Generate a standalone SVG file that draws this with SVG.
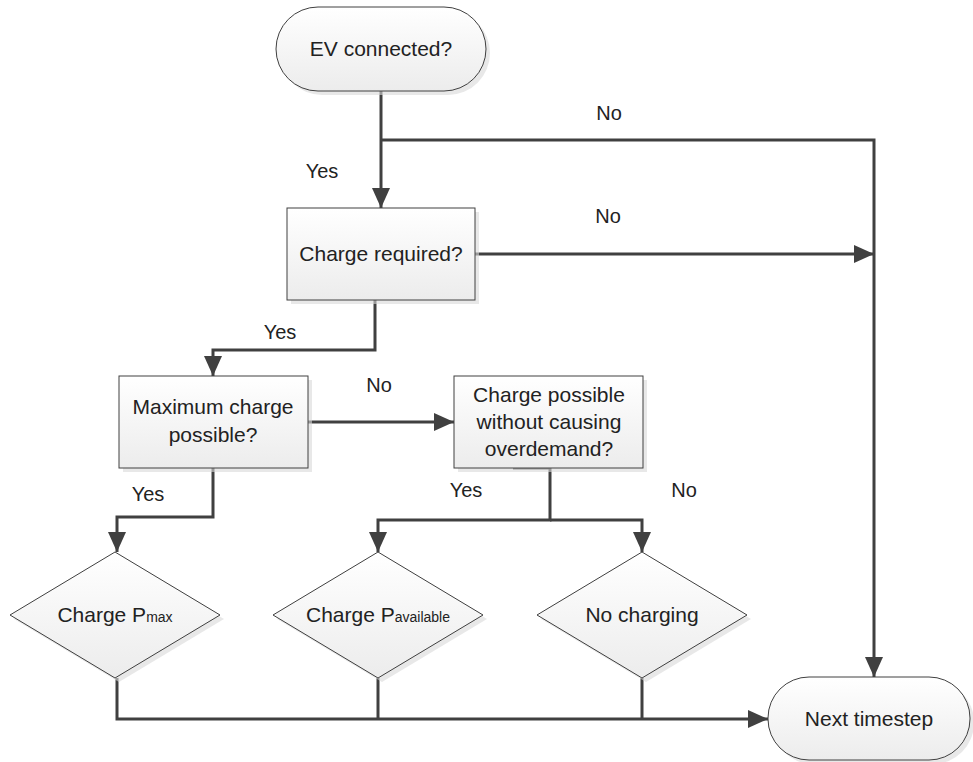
<svg xmlns="http://www.w3.org/2000/svg" width="973" height="762" viewBox="0 0 973 762">
<defs>
<linearGradient id="g" x1="0" y1="0" x2="0" y2="1">
<stop offset="0" stop-color="#ffffff"/>
<stop offset="1" stop-color="#ececec"/>
</linearGradient>
<marker id="arr" viewBox="0 0 20 20" refX="20" refY="10" markerWidth="20" markerHeight="20" markerUnits="userSpaceOnUse" orient="auto">
<path d="M0,1 L20,10 L0,19 Z" fill="#404040"/>
</marker>
</defs>
<style>
.sh{fill:#d9d9d9;opacity:0.6}
.nd{fill:url(#g);stroke:#404040;stroke-width:1}
.t{font-family:"Liberation Sans",Arial,sans-serif;font-size:21px;fill:#222222;text-anchor:middle}
.sub{font-size:14px}
.lb{font-family:"Liberation Sans",Arial,sans-serif;font-size:20px;fill:#222222;text-anchor:middle}
.c{fill:none;stroke:#404040;stroke-width:3}
.ca{fill:none;stroke:#404040;stroke-width:3;marker-end:url(#arr)}
</style>
<g id="connectors">
<path class="ca" d="M381,91 V208"/>
<path class="ca" d="M381,140 H874 V677"/>
<path class="ca" d="M475,254 H874"/>
<path class="ca" d="M375,300 V350 H213 V376"/>
<path class="ca" d="M308,422 H454"/>
<path class="ca" d="M213,468 V517 H117 V552"/>
<path class="ca" d="M513,468 H550 V520 H378 V552"/>
<path class="ca" d="M550,520 H642 V552"/>
<path class="ca" d="M117,678 V719 H768"/>
<path class="c" d="M378,678 V719"/>
<path class="c" d="M642,678 V719"/>
</g>
<g id="labels">
<text class="lb" x="609" y="120">No</text>
<text class="lb" x="322" y="178">Yes</text>
<text class="lb" x="608" y="223">No</text>
<text class="lb" x="280" y="339">Yes</text>
<text class="lb" x="379" y="392">No</text>
<text class="lb" x="148" y="501">Yes</text>
<text class="lb" x="466" y="497">Yes</text>
<text class="lb" x="684" y="497">No</text>
</g>
<g id="ev-connected">
<rect class="sh" x="280" y="11" width="210" height="84" rx="42"/>
<rect class="nd" x="276" y="7" width="210" height="84" rx="42"/>
<text class="t" x="381" y="56">EV connected?</text>
</g>
<g id="charge-required">
<rect class="sh" x="291" y="212" width="188" height="92"/>
<rect class="nd" x="287" y="208" width="188" height="92"/>
<text class="t" x="381" y="261">Charge required?</text>
</g>
<g id="max-charge">
<rect class="sh" x="123" y="380" width="189" height="92"/>
<rect class="nd" x="119" y="376" width="189" height="92"/>
<text class="t" x="213" y="414">Maximum charge</text>
<text class="t" x="213" y="442">possible?</text>
</g>
<g id="charge-possible">
<rect class="sh" x="458" y="380" width="189" height="92"/>
<rect class="nd" x="454" y="376" width="189" height="92"/>
<text class="t" x="549" y="402">Charge possible</text>
<text class="t" x="549" y="429">without causing</text>
<text class="t" x="549" y="456">overdemand?</text>
</g>
<g id="charge-pmax">
<path class="sh" d="M119,556 L224,619 L119,682 L14,619 Z"/>
<path class="nd" d="M115,552 L220,615 L115,678 L10,615 Z"/>
<text class="t" x="115" y="622">Charge P<tspan class="sub">max</tspan></text>
</g>
<g id="charge-pavailable">
<path class="sh" d="M382,556 L487,619 L382,682 L277,619 Z"/>
<path class="nd" d="M378,552 L483,615 L378,678 L273,615 Z"/>
<text class="t" x="378" y="622">Charge P<tspan class="sub">available</tspan></text>
</g>
<g id="no-charging">
<path class="sh" d="M646,556 L751,619 L646,682 L541,619 Z"/>
<path class="nd" d="M642,552 L747,615 L642,678 L537,615 Z"/>
<text class="t" x="642" y="622">No charging</text>
</g>
<g id="next-timestep">
<rect class="sh" x="772" y="681" width="202" height="83" rx="41"/>
<rect class="nd" x="768" y="677" width="202" height="83" rx="41"/>
<text class="t" x="869" y="726">Next timestep</text>
</g>
</svg>
